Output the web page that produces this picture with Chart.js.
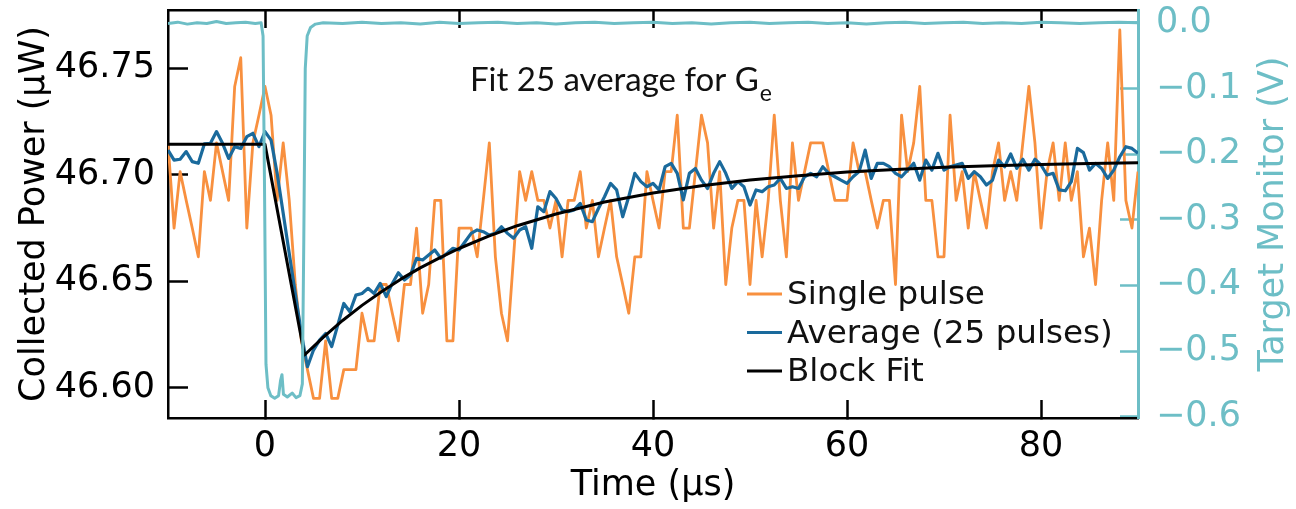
<!DOCTYPE html>
<html><head><meta charset="utf-8">
<script src="https://cdn.jsdelivr.net/npm/chart.js@4/dist/chart.umd.min.js"></script>
<style>html,body{margin:0;padding:0;background:#fff;overflow:hidden}canvas{display:block}</style>
</head><body>
<canvas id="c" width="1296" height="509"></canvas>
<script>
// ---------- data ----------
const sampleTimes = [
-10,-9.375,-8.75,-8.125,-7.5,-6.875,-6.25,-5.625,
-5,-4.375,-3.75,-3.125,-2.5,-1.875,-1.25,-0.625,
0,0.625,1.25,1.875,2.5,3.125,3.75,4.375,
5,5.625,6.25,6.875,7.5,8.125,8.75,9.375,
10,10.625,11.25,11.875,12.5,13.125,13.75,14.375,
15,15.625,16.25,16.875,17.5,18.125,18.75,19.375,
20,20.625,21.25,21.875,22.5,23.125,23.75,24.375,
25,25.625,26.25,26.875,27.5,28.125,28.75,29.375,
30,30.625,31.25,31.875,32.5,33.125,33.75,34.375,
35,35.625,36.25,36.875,37.5,38.125,38.75,39.375,
40,40.625,41.25,41.875,42.5,43.125,43.75,44.375,
45,45.625,46.25,46.875,47.5,48.125,48.75,49.375,
50,50.625,51.25,51.875,52.5,53.125,53.75,54.375,
55,55.625,56.25,56.875,57.5,58.125,58.75,59.375,
60,60.625,61.25,61.875,62.5,63.125,63.75,64.375,
65,65.625,66.25,66.875,67.5,68.125,68.75,69.375,
70,70.625,71.25,71.875,72.5,73.125,73.75,74.375,
75,75.625,76.25,76.875,77.5,78.125,78.75,79.375,
80,80.625,81.25,81.875,82.5,83.125,83.75,84.375,
85,85.625,86.25,86.875,87.5,88.125,88.75,89.375,
90];

const singlePulse = [
46.715,46.675,46.7015,46.688,46.675,46.6615,46.7015,46.688,
46.715,46.7015,46.688,46.7415,46.755,46.675,46.715,46.728,
46.7415,46.728,46.688,46.715,46.688,46.6485,46.622,46.6085,
46.595,46.595,46.622,46.595,46.595,46.6085,46.6085,46.6085,
46.635,46.622,46.622,46.6485,46.6485,46.635,46.622,46.6485,
46.6485,46.675,46.635,46.6485,46.688,46.688,46.622,46.622,
46.675,46.675,46.675,46.6615,46.688,46.715,46.6615,46.635,
46.622,46.6615,46.7015,46.688,46.7015,46.688,46.688,46.675,
46.688,46.6615,46.688,46.688,46.7015,46.675,46.688,46.6615,
46.675,46.688,46.6615,46.6485,46.635,46.6615,46.6615,46.7015,
46.688,46.675,46.7015,46.7015,46.728,46.675,46.675,46.7015,
46.728,46.715,46.675,46.7015,46.6485,46.675,46.688,46.688,
46.6485,46.688,46.6615,46.688,46.728,46.688,46.6615,46.715,
46.688,46.7015,46.715,46.715,46.715,46.7015,46.688,46.688,
46.688,46.715,46.7015,46.7015,46.688,46.675,46.688,46.688,
46.6485,46.728,46.7015,46.715,46.7415,46.688,46.688,46.6615,
46.6615,46.728,46.688,46.7015,46.675,46.7015,46.688,46.675,
46.7015,46.715,46.688,46.7015,46.688,46.715,46.7415,46.715,
46.675,46.7015,46.715,46.688,46.715,46.688,46.7015,46.6615,
46.675,46.6485,46.688,46.715,46.688,46.768,46.688,46.675,
46.7015];

const average25 = [
46.7116,46.7069,46.7073,46.7109,46.7062,46.7054,46.7145,46.7148,
46.7203,46.7148,46.7077,46.7132,46.7124,46.7179,46.7195,46.7132,
46.7203,46.7163,46.7007,46.6819,46.6631,46.6443,46.6255,46.6099,
46.6177,46.6224,46.6255,46.6193,46.6294,46.6396,46.6357,46.6435,
46.6443,46.6467,46.6443,46.6490,46.6428,46.6490,46.6540,46.6506,
46.6529,46.6608,46.6600,46.6623,46.6647,46.6608,46.6631,46.6655,
46.6647,46.6686,46.6725,46.6741,46.6733,46.6717,46.6725,46.6756,
46.6725,46.6702,46.6741,46.6756,46.6655,46.6850,46.6827,46.6921,
46.6889,46.6835,46.6827,46.6835,46.6866,46.6788,46.6780,46.6842,
46.6897,46.6960,46.6929,46.6803,46.6897,46.7007,46.6968,46.6944,
46.6960,46.6929,46.7038,46.7054,46.7007,46.6882,46.7007,46.7030,
46.6975,46.6936,46.7007,46.7062,46.7007,46.6936,46.6968,46.6944,
46.6858,46.6929,46.6921,46.6944,46.6952,46.6983,46.6936,46.6944,
46.6936,46.6991,46.7007,46.6991,46.7038,46.7007,46.6991,46.6975,
46.6960,46.6991,46.7015,46.7116,46.6983,46.7054,46.7054,46.7038,
46.7007,46.6991,46.7022,46.7054,46.6975,46.7069,46.7022,46.7101,
46.7022,46.7038,46.7046,46.7054,46.6983,46.7015,46.6991,46.6952,
46.6975,46.7069,46.7038,46.7098,46.7030,46.7073,46.7022,46.7073,
46.7046,46.6999,46.7007,46.6929,46.6925,46.6968,46.7124,46.7104,
46.7022,46.7054,46.7030,46.6983,46.7022,46.7085,46.7132,46.7124,
46.7101];

const fitTimes  = [-10, 0, 4.07, 6, 8, 10, 12, 14, 16, 18, 20, 23, 26, 30, 35, 40, 45, 50, 55, 60, 65, 70, 75, 80, 85, 90];
const fitValues = [46.7143, 46.7143, 46.6154, 46.6237, 46.6316, 46.6387, 46.6451, 46.6510, 46.6563, 46.6610, 46.6654, 46.6711, 46.6761, 46.6816, 46.6872, 46.6915, 46.6949, 46.6976, 46.6996, 46.7013, 46.7025, 46.7035, 46.7043, 46.7049, 46.7053, 46.7057];

const monitorTimes = [
-10,-9,-8,-7,-6,-5,-4,-3,-2,-1,
-0.4,-0.2,-0.05,0.1,0.3,0.6,1.0,1.4,1.6,1.75,
1.9,2.3,2.8,3.2,3.6,3.85,4.0,4.15,4.35,4.7,
5.2,6,8,10,12,14,16,18,20,22,
24,26,28,30,32,34,36,38,40,42,
44,46,48,50,52,54,56,58,60,62,
64,66,68,70,72,74,76,78,80,82,
84,86,88,90];
const monitorValues = [
-0.001,0.001,-0.002,0.000,-0.001,0.002,-0.001,0.000,0.001,-0.001,
0.000,-0.020,-0.250,-0.520,-0.556,-0.568,-0.572,-0.568,-0.545,-0.536,
-0.566,-0.570,-0.564,-0.571,-0.568,-0.550,-0.330,-0.070,-0.020,-0.007,
-0.002,0.000,-0.001,0.001,-0.001,0.000,-0.002,0.001,-0.001,0.000,
0.001,-0.001,0.000,-0.002,0.000,0.001,-0.001,0.000,0.001,-0.001,
0.000,-0.002,0.000,0.001,-0.001,0.000,0.001,-0.001,0.000,-0.002,
0.000,0.001,-0.001,0.000,0.001,-0.001,0.000,-0.001,0.001,0.000,
-0.001,0.000,0.001,0.000];

const timeTicks = [0, 20, 40, 60, 80];
const powerTicks = [46.60, 46.65, 46.70, 46.75];
const monitorTicks = [-0.6, -0.5, -0.4, -0.3, -0.2, -0.1, 0.0];
const legendLabels = ['Single pulse', 'Average (25 pulses)', 'Block Fit'];
const annotationText = 'Fit 25 average for G';
const annotationSub = 'e';

// ---------- styles ----------
const ORANGE = '#f8903f', BLUE = '#1a6a9c', CYAN = '#6dbec6', BLACK = '#000000';
const FONT = 'DejaVu Sans';
const pts = (xs, ys) => xs.map((x, i) => ({x: x, y: ys[i]}));
const setTicks = arr => s => { s.ticks = arr.map(v => ({value: v})); };
const fixBox = (w, h) => s => {
  if (w !== null) s.width = w;
  if (h !== null) s.height = h;
  s.paddingTop = 0; s.paddingBottom = 0; s.paddingLeft = 0; s.paddingRight = 0;
};

const annotationPlugin = {
  id: 'annot',
  afterDraw(chart) {
    const c = chart.ctx; c.save();
    c.fillStyle = '#111'; c.textBaseline = 'alphabetic'; c.textAlign = 'left';
    c.font = '33px Lato';
    c.fillText(annotationText, 470, 91);
    const w = c.measureText(annotationText).width;
    c.font = '23px Lato';
    c.fillText(annotationSub, 470 + w + 1, 101);
    c.restore();
  }
};

const legendPlugin = {
  id: 'customLegend',
  afterDraw(chart) {
    const c = chart.ctx; c.save();
    c.font = '32.6px "' + FONT + '"'; c.textBaseline = 'middle'; c.textAlign = 'left';
    legendLabels.forEach((lab, i) => {
      const ds = chart.data.datasets.find(d => d.label === lab);
      const y = 294 + i * 38.5;
      c.strokeStyle = ds.borderColor; c.lineWidth = 3;
      c.beginPath(); c.moveTo(747, y); c.lineTo(782, y); c.stroke();
      c.fillStyle = '#111';
      c.fillText(lab, 787, y + 2);
    });
    c.restore();
  }
};

const rightTitlePlugin = {
  id: 'rightTitle',
  afterDraw(chart) {
    const c = chart.ctx; const a = chart.chartArea; c.save();
    c.translate(1274, (a.top + a.bottom) / 2);
    c.rotate(-Math.PI / 2);
    c.font = '35px "' + FONT + '"'; c.fillStyle = CYAN;
    c.textAlign = 'center'; c.textBaseline = 'middle';
    c.fillText('Target Monitor (V)', 0, 0);
    c.restore();
  }
};

const tickFont = {family: FONT, size: 35};

new Chart(document.getElementById('c'), {
  type: 'line',
  data: {
    datasets: [
      {label: 'Target Monitor', data: pts(monitorTimes, monitorValues), yAxisID: 'y2', xAxisID: 'x', borderColor: CYAN, borderWidth: 3},
      {label: 'Block Fit', data: pts(fitTimes, fitValues), yAxisID: 'y', xAxisID: 'x', borderColor: BLACK, borderWidth: 3},
      {label: 'Average (25 pulses)', data: pts(sampleTimes, average25), yAxisID: 'y', xAxisID: 'x', borderColor: BLUE, borderWidth: 3.2},
      {label: 'Single pulse', data: pts(sampleTimes, singlePulse), yAxisID: 'y', xAxisID: 'x', borderColor: ORANGE, borderWidth: 2.8}
    ]
  },
  options: {
    responsive: false, devicePixelRatio: 1, animation: false,
    layout: {padding: 0},
    elements: {point: {radius: 0}, line: {tension: 0, fill: false, borderJoinStyle: 'round'}},
    plugins: {legend: {display: false}, tooltip: {enabled: false}},
    scales: {
      x: {
        type: 'linear', position: 'bottom', min: -10, max: 90,
        afterBuildTicks: setTicks(timeTicks),
        afterFit: fixBox(null, 91),
        grid: {display: true, drawOnChartArea: false, drawTicks: true, tickLength: -18, tickWidth: 2.5, tickColor: BLACK},
        border: {display: true, color: BLACK, width: 2.5},
        ticks: {padding: 26, color: BLACK, font: tickFont, maxRotation: 0, autoSkip: false, callback: v => String(v)},
        title: {display: true, text: 'Time (µs)', color: BLACK, font: tickFont, padding: {top: 0, bottom: 2}}
      },
      xTop: {
        type: 'linear', axis: 'x', position: 'top', min: -10, max: 90,
        afterBuildTicks: setTicks(timeTicks),
        afterFit: fixBox(null, 10),
        grid: {display: true, drawOnChartArea: false, drawTicks: true, tickLength: -18, tickWidth: 2.5, tickColor: BLACK},
        border: {display: true, color: BLACK, width: 2.5},
        ticks: {display: false}
      },
      y: {
        type: 'linear', position: 'left', min: 46.5858, max: 46.7774,
        afterBuildTicks: setTicks(powerTicks),
        afterFit: fixBox(168, null),
        grid: {display: true, drawOnChartArea: false, drawTicks: true, tickLength: -20, tickWidth: 2.5, tickColor: BLACK},
        border: {display: true, color: BLACK, width: 2.5},
        ticks: {padding: 33, color: BLACK, font: tickFont, autoSkip: false, callback: v => v.toFixed(2)},
        title: {display: true, text: 'Collected Power (µW)', color: BLACK, font: tickFont, padding: {top: 14, bottom: 0}}
      },
      y2: {
        type: 'linear', position: 'right', min: -0.602, max: 0.0195,
        afterBuildTicks: setTicks(monitorTicks),
        afterFit: fixBox(158, null),
        grid: {display: true, drawOnChartArea: false, drawTicks: true, tickLength: -18, tickWidth: 2.5, tickColor: CYAN},
        border: {display: true, color: CYAN, width: 3},
        ticks: {padding: 36, color: CYAN, font: tickFont, autoSkip: false, callback: v => (v < 0 ? '\u2212' : '') + Math.abs(v).toFixed(1)}
      }
    }
  },
  plugins: [annotationPlugin, legendPlugin, rightTitlePlugin]
});
</script>
</body></html>
